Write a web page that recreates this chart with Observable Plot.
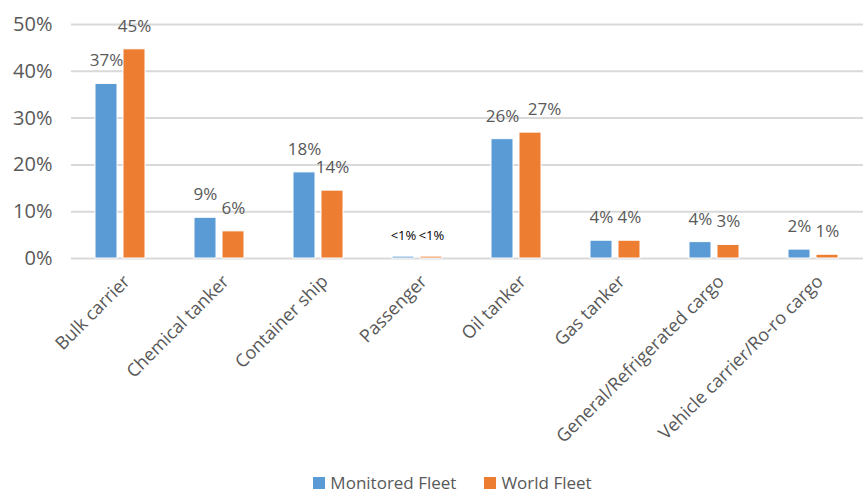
<!DOCTYPE html>
<html><head><meta charset="utf-8">
<script src="https://cdn.jsdelivr.net/npm/d3@7"></script>
<script src="https://cdn.jsdelivr.net/npm/@observablehq/plot@0.6"></script>
<style>
body{margin:0;background:#fff;font-family:"Open Sans",sans-serif;}
#legend{display:flex;justify-content:center;align-items:center;height:25px;font-size:17px;color:#595959;padding-left:40px;}
.item{display:flex;align-items:center;margin:0 14px;}
.sw{width:12px;height:12px;margin-right:5px;}
</style></head><body><div id="chart"></div><div id="legend"></div>
<script>
const categories = ["Bulk carrier","Chemical tanker","Container ship","Passenger","Oil tanker","Gas tanker","General/Refrigerated cargo","Vehicle carrier/Ro-ro cargo"];
const seriesNames = ["Monitored Fleet","World Fleet"];
const monitored = [37.3,8.7,18.4,0.4,25.5,3.8,3.5,1.9];
const world = [44.7,5.8,14.5,0.4,26.9,3.8,2.9,0.8];
const monitoredLabels = ["37%","9%","18%","<1%","26%","4%","4%","2%"];
const worldLabels = ["45%","6%","14%","<1%","27%","4%","3%","1%"];
const yTicks = [0,10,20,30,40,50];
const colors = ["#5B9BD5","#ED7D31"];

const rows = [];
categories.forEach((c,i)=>{
  rows.push({category:c, series:seriesNames[0], value:monitored[i], label:monitoredLabels[i]});
  rows.push({category:c, series:seriesNames[1], value:world[i], label:worldLabels[i]});
});
// labels nudged sideways to avoid overlapping a neighbouring label
const nudged = rows.filter(d=>d.category==="Oil tanker" && d.series===seriesNames[1]);
const big = rows.filter(d=>d.label!=="<1%" && !nudged.includes(d));
const small = rows.filter(d=>d.label==="<1%");

const chart = Plot.plot({
  width:865, height:470, marginLeft:68, marginRight:0, marginTop:24, marginBottom:212,
  style:{fontFamily:"'Open Sans', sans-serif", background:"white", overflow:"visible"},
  fx:{domain:categories, padding:0, label:null},
  x:{domain:seriesNames, paddingInner:0.2, paddingOuter:0.83, axis:null},
  y:{domain:[0,50], label:null},
  color:{domain:seriesNames, range:colors},
  marks:[
    Plot.gridY(yTicks,{stroke:"#d9d9d9", strokeOpacity:1, strokeWidth:2}),
    Plot.axisY(yTicks,{tickSize:0, tickPadding:19, tickFormat:d=>d+"%", fontSize:20, fill:"#595959", label:null}),
    Plot.barY(rows,{fx:"category", x:"series", y:"value", fill:"series", stroke:"white", strokeWidth:1}),
    Plot.text(big,{fx:"category", x:"series", y:"value", text:"label", dy:-23, fontSize:17, fill:"#595959"}),
    Plot.text(nudged,{fx:"category", x:"series", y:"value", text:"label", dy:-23, dx:14, fontSize:17, fill:"#595959"}),
    Plot.text(small,{fx:"category", x:"series", y:"value", text:"label", dy:-21, fontSize:13, fill:"black"}),
    Plot.axisFx({anchor:"bottom", tickRotate:-45, tickSize:0, tickPadding:20, dx:6, fontSize:18, fill:"#595959", label:null})
  ]
});
document.getElementById("chart").appendChild(chart);

const legend = document.getElementById("legend");
seriesNames.forEach((s,i)=>{
  const it = document.createElement("div"); it.className="item";
  const sw = document.createElement("div"); sw.className="sw"; sw.style.background=colors[i];
  const t = document.createElement("span"); t.textContent=s;
  it.appendChild(sw); it.appendChild(t); legend.appendChild(it);
});
</script></body></html>
